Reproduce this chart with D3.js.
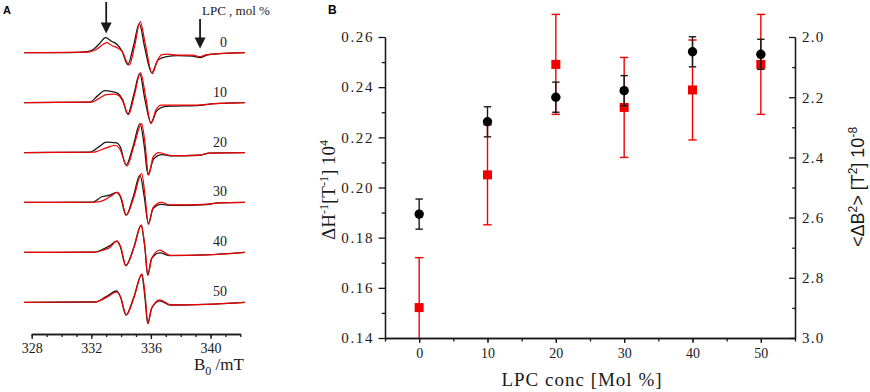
<!DOCTYPE html>
<html>
<head>
<meta charset="utf-8">
<script src="https://cdn.jsdelivr.net/npm/d3@7"></script>
<style>
  body { margin: 0; background: #fff; }
  svg { display: block; }
</style>
</head>
<body>
<div id="chart"></div>
<script>
// ---------- panel A : EPR spectra ----------
const lpcLevels = [0, 10, 20, 30, 40, 50];
const fieldTicks = [328, 332, 336, 340];
const arrowFields = [333.0, 339.3];

// [B0 in mT, amplitude a.u.]
const spectraBlack = [
  [[327.5,0],[330.5,0],[331.7,1],[332.2,4],[332.6,10],[332.95,15],[333.35,11.5],[333.75,8],[334.05,2],[334.45,-12],[334.85,8],[335.22,29],[335.6,4],[336.05,-20],[336.5,-7],[337.05,-4],[337.8,-3],[338.8,-3.5],[339.3,-5],[339.75,-2.5],[340.6,-1],[342.3,0]],
  [[327.5,0],[331.9,0.5],[332.4,6.5],[332.9,12],[333.4,11],[333.8,9],[334.1,3],[334.45,-11.5],[334.85,8],[335.25,29],[335.6,3],[336.0,-20],[336.4,-8],[336.9,-4],[337.5,-3.5],[339.0,-3],[340.3,-1],[342.3,0]],
  [[327.5,0],[331.9,0.5],[332.6,6.7],[333.0,10.5],[333.7,9.7],[333.95,5.5],[334.33,-12.7],[334.8,6],[335.27,29],[335.55,7],[335.8,-22],[336.2,-6],[336.75,-2],[337.3,-3.3],[339.3,-2.7],[339.9,-0.5],[342.3,0]],
  [[327.5,0],[332.1,0.3],[332.7,5.7],[333.25,7.3],[333.7,10],[333.95,5.7],[334.33,-12.7],[334.8,5],[335.27,27.3],[335.55,6],[335.83,-21],[336.15,-6],[336.7,-2],[337.3,-3],[339.5,-2.5],[340.6,-0.5],[342.3,0]],
  [[327.5,0],[332.25,0.3],[332.8,3.3],[333.25,6.7],[333.7,11.3],[333.95,5.7],[334.31,-13.3],[334.85,5],[335.33,26.7],[335.6,4],[335.78,-22.7],[336.05,-6],[336.6,-0.5],[337.3,-3.3],[339.7,-2.5],[342.3,0]],
  [[327.5,0],[332.25,0.3],[333.0,5.7],[333.7,11.3],[333.95,5.7],[334.33,-12.7],[334.85,5],[335.38,27.3],[335.6,5],[335.78,-21],[336.05,-6],[336.6,1.5],[337.3,-2.7],[339.7,-2],[342.3,0]]
];
const spectraRed = [
  [[327.5,0],[331.8,0.5],[332.3,3],[333.05,10],[333.4,7],[333.8,4.5],[334.05,1.5],[334.55,-12.5],[334.9,6],[335.28,31],[335.62,9],[336.1,-21],[336.4,-9],[336.75,-2],[337.1,-1.5],[337.8,-2.5],[338.8,-2.5],[339.3,-4],[339.75,-2],[340.6,-1],[342.3,0]],
  [[327.5,0],[332.0,0.5],[332.5,4],[333.0,8],[333.5,8.5],[333.85,7],[334.1,2],[334.5,-12],[334.9,8],[335.3,30],[335.65,6],[336.0,-21],[336.35,-7],[336.7,-2.5],[337.1,-2.5],[339.0,-2.5],[340.3,-1],[342.3,0]],
  [[327.5,0],[332.1,0.3],[333.0,4.7],[333.6,7.3],[333.9,4],[334.4,-13.3],[334.85,6],[335.38,29],[335.6,10],[335.85,-22.7],[336.15,-4.3],[336.55,0],[337.3,-3],[339.3,-2.5],[339.9,-0.5],[342.3,0]],
  [[327.5,0],[332.2,0.2],[332.7,1.3],[333.25,5.7],[333.75,10],[334.0,5],[334.35,-12.7],[334.85,5],[335.38,29],[335.6,8],[335.83,-22],[336.15,-5],[336.7,0],[337.3,-2.5],[339.5,-2],[340.6,-0.5],[342.3,0]],
  [[327.5,0],[332.25,0.3],[332.8,2.3],[333.25,5],[333.72,11.3],[333.97,5.7],[334.33,-13.3],[334.87,5],[335.36,27.5],[335.6,5],[335.8,-23],[336.05,-6],[336.6,2.3],[337.3,-3],[339.7,-2.5],[342.3,0]],
  [[327.5,0],[332.25,0.3],[333.0,4.7],[333.72,10.3],[333.97,5],[334.35,-12.7],[334.87,5],[335.4,28.5],[335.62,6],[335.8,-21.5],[336.05,-6],[336.6,2.5],[337.3,-2.5],[339.7,-2],[342.3,0]]
];

// ---------- panel B : linewidth and second moment ----------
const lpcConc = [0, 10, 20, 30, 40, 50];
const invLinewidth = [0.1894, 0.2262, 0.2360, 0.2386, 0.2541, 0.2531];
const invLinewidthErr = [0.006, 0.006, 0.006, 0.006, 0.006, 0.006];
const secondMoment = [2.899, 2.458, 2.091, 2.234, 2.176, 2.091];
const secondMomentErr = [0.166, 0.166, 0.166, 0.166, 0.166, 0.166];
const leftTicks = [0.14, 0.16, 0.18, 0.20, 0.22, 0.24, 0.26];
const rightTicks = [2.0, 2.2, 2.4, 2.6, 2.8, 3.0];
const concTicks = [0, 10, 20, 30, 40, 50];

const width = 870, height = 392;
const serif = "'Liberation Serif', 'Times New Roman', serif";
const sans = "'Liberation Sans', Arial, sans-serif";
const ink = "#1a1a1a";
const red = "#f20000";

const svg = d3.select("#chart").append("svg")
  .attr("width", width)
  .attr("height", height)
  .attr("viewBox", [0, 0, width, height]);

// ===== panel A =====
const xA = d3.scaleLinear().domain([328, 342]).range([31.7, 240.3]);
const rowA = d3.scalePoint().domain(lpcLevels).range([52.7, 302.3]);
const ampA = d3.scaleLinear().domain([-30, 30]).range([30, -30]);

const lineFor = level => d3.line()
  .x(d => xA(d[0]))
  .y(d => rowA(level) + ampA(d[1]))
  .curve(d3.curveMonotoneX);

const specG = svg.append("g").attr("fill", "none").attr("stroke-linejoin", "round");
lpcLevels.forEach((lvl, i) => {
  specG.append("path").attr("d", lineFor(lvl)(spectraBlack[i]))
    .attr("stroke", ink).attr("stroke-width", 1.3);
  specG.append("path").attr("d", lineFor(lvl)(spectraRed[i]))
    .attr("stroke", red).attr("stroke-width", 1.2);
});

svg.append("g").selectAll("text")
  .data(lpcLevels)
  .join("text")
    .attr("x", 227)
    .attr("y", d => rowA(d) - 6)
    .attr("text-anchor", "end")
    .style("font-family", serif)
    .style("font-size", "14px")
    .attr("fill", ink)
    .text(d => d);

svg.append("text")
  .attr("x", 202).attr("y", 15)
  .style("font-family", serif).style("font-size", "13px").attr("fill", ink)
  .text("LPC , mol %");

// arrows marking the spectral features
const arrowTop = [2, 19], arrowTip = [33.5, 48.5];
const arrows = svg.append("g").attr("fill", ink).attr("stroke", ink);
arrowFields.forEach((f, i) => {
  const x = xA(f);
  arrows.append("line")
    .attr("x1", x).attr("x2", x)
    .attr("y1", arrowTop[i]).attr("y2", arrowTip[i] - 8)
    .attr("stroke-width", 1.8);
  arrows.append("path")
    .attr("stroke", "none")
    .attr("d", `M${x - 5.5},${arrowTip[i] - 11}L${x + 5.5},${arrowTip[i] - 11}L${x},${arrowTip[i]}Z`);
});

const axA = svg.append("g").attr("transform", "translate(0,334)");
axA.append("g")
  .call(d3.axisBottom(xA).tickValues(d3.range(328, 343, 1)).tickSize(3).tickSizeOuter(0).tickFormat(""));
axA.append("g")
  .call(d3.axisBottom(xA).tickValues(fieldTicks).tickSize(5).tickSizeOuter(0))
  .call(g => g.selectAll(".tick text")
    .attr("y", 9).style("font-family", serif).style("font-size", "14px").attr("fill", ink));
axA.selectAll("path, line").attr("stroke", ink).attr("stroke-width", 1.3);

const bLabel = svg.append("text")
  .attr("x", 194).attr("y", 370)
  .style("font-family", serif).style("font-size", "17px").attr("fill", ink);
bLabel.append("tspan").text("B");
bLabel.append("tspan").attr("dy", 5).style("font-size", "12px").text("0");
bLabel.append("tspan").attr("dy", -5).text(" /mT");

svg.append("text")
  .attr("x", 3).attr("y", 13.5)
  .style("font-family", sans).attr("font-weight", "bold").style("font-size", "11px")
  .text("A");

// ===== panel B =====
const x = d3.scaleLinear().domain([-5, 55]).range([385, 795]);
const yL = d3.scaleLinear().domain([0.14, 0.26]).range([338, 37]);
const yR = d3.scaleLinear().domain([2.0, 3.0]).range([37, 338]);

svg.append("defs").append("clipPath").attr("id", "plotB")
  .append("rect").attr("x", 380).attr("y", 0).attr("width", 420).attr("height", 338);

// x axis
const xAx = svg.append("g").attr("transform", "translate(0,338)");
xAx.append("g")
  .call(d3.axisBottom(x).tickValues(d3.range(-5, 56, 5)).tickSize(3.5).tickSizeOuter(0).tickFormat(""));
xAx.append("g")
  .call(d3.axisBottom(x).tickValues(concTicks).tickSize(5).tickSizeOuter(0))
  .call(g => g.selectAll(".tick text")
    .attr("y", 10).style("font-family", serif).style("font-size", "14px").attr("fill", ink));

// left axis
const lAx = svg.append("g").attr("transform", "translate(385,0)");
lAx.append("g")
  .call(d3.axisLeft(yL).tickValues(d3.range(0.15, 0.26, 0.02)).tickSize(3.3).tickSizeOuter(0).tickFormat(""));
lAx.append("g")
  .call(d3.axisLeft(yL).tickValues(leftTicks).tickSize(6.5).tickSizeOuter(0).tickFormat(d3.format(".2f")))
  .call(g => g.selectAll(".tick text")
    .attr("x", -11).style("font-family", serif).style("font-size", "15px")
    .attr("letter-spacing", 1.6).attr("fill", ink));

// right axis, ticks pointing inward
const rAx = svg.append("g").attr("transform", "translate(795,0)");
rAx.append("g")
  .call(d3.axisRight(yR).tickValues(d3.range(2.1, 3.0, 0.2)).tickSize(-2.8).tickSizeOuter(0).tickFormat(""));
rAx.append("g")
  .call(d3.axisRight(yR).tickValues(rightTicks).tickSize(-6).tickSizeOuter(0).tickFormat(d3.format(".1f")))
  .call(g => g.selectAll(".tick text")
    .attr("x", 7).style("font-family", serif).style("font-size", "15px")
    .attr("letter-spacing", 1.2).attr("fill", ink));

[xAx, lAx, rAx].forEach(g => g.selectAll("path, line").attr("stroke", ink).attr("stroke-width", 1.3));

// error bars and markers
const pts = lpcConc.map((c, i) => ({
  c,
  h: invLinewidth[i], he: invLinewidthErr[i],
  m: secondMoment[i], me: secondMomentErr[i]
}));

const errBar = (g, cx, y0, y1, cap) => {
  g.append("line").attr("x1", cx).attr("x2", cx).attr("y1", y0).attr("y2", y1);
  g.append("line").attr("x1", cx - cap).attr("x2", cx + cap).attr("y1", y0).attr("y2", y0);
  g.append("line").attr("x1", cx - cap).attr("x2", cx + cap).attr("y1", y1).attr("y2", y1);
};

const redErr = svg.append("g").attr("stroke", red).attr("stroke-width", 1.4).attr("clip-path", "url(#plotB)");
pts.forEach(d => errBar(redErr, x(d.c), yR(d.m - d.me), yR(d.m + d.me), 4.2));

svg.append("g").selectAll("rect")
  .data(pts)
  .join("rect")
    .attr("x", d => x(d.c) - 4.5)
    .attr("y", d => yR(d.m) - 4.5)
    .attr("width", 9)
    .attr("height", 9)
    .attr("fill", red);

const blackErr = svg.append("g").attr("stroke", ink).attr("stroke-width", 1.4);
pts.forEach(d => errBar(blackErr, x(d.c), yL(d.h + d.he), yL(d.h - d.he), 3.7));

svg.append("g").selectAll("circle")
  .data(pts)
  .join("circle")
    .attr("cx", d => x(d.c))
    .attr("cy", d => yL(d.h))
    .attr("r", 4.7)
    .attr("fill", "#000");

// axis titles
svg.append("text")
  .attr("x", 582).attr("y", 386)
  .attr("text-anchor", "middle")
  .style("font-family", serif).style("font-size", "19px").attr("letter-spacing", 1)
  .attr("fill", ink)
  .text("LPC conc [Mol %]");

const lt = svg.append("text")
  .attr("transform", "translate(335,190) rotate(-90)")
  .attr("text-anchor", "middle")
  .style("font-family", serif).style("font-size", "19px")
  .attr("fill", ink);
lt.append("tspan").text("\u0394H");
lt.append("tspan").attr("dy", -7).style("font-size", "12px").text("-1");
lt.append("tspan").attr("dy", 7).text("[T");
lt.append("tspan").attr("dy", -7).style("font-size", "12px").text("-1");
lt.append("tspan").attr("dy", 7).text("] 10");
lt.append("tspan").attr("dy", -7).style("font-size", "12px").text("4");

const rt = svg.append("text")
  .attr("transform", "translate(864,187) rotate(-90)")
  .attr("text-anchor", "middle")
  .style("font-family", sans).style("font-size", "18px")
  .attr("fill", ink);
rt.append("tspan").text("<\u0394B");
rt.append("tspan").attr("dy", -7).style("font-size", "12px").text("2");
rt.append("tspan").attr("dy", 7).text("> [T");
rt.append("tspan").attr("dy", -7).style("font-size", "12px").text("2");
rt.append("tspan").attr("dy", 7).text("] 10");
rt.append("tspan").attr("dy", -7).style("font-size", "12px").text("-8");

svg.append("text")
  .attr("x", 328).attr("y", 13.5)
  .style("font-family", sans).attr("font-weight", "bold").style("font-size", "12px")
  .text("B");
</script>
</body>
</html>
